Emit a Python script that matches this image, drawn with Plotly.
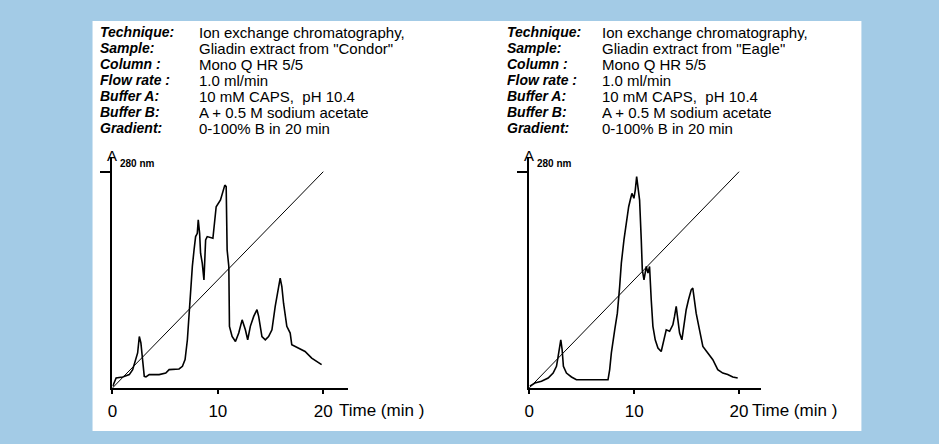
import plotly.graph_objects as go

W, H = 939, 444
BLUE = "#a3cbe6"
FONT = "Liberation Sans, Arial, sans-serif"

# header text
LABELS = ["Technique:", "Sample:", "Column :", "Flow rate :", "Buffer A:", "Buffer B:", "Gradient:"]
VALUES_LEFT = ["Ion exchange chromatography,", "Gliadin extract from \"Condor\"", "Mono Q HR 5/5",
               "1.0 ml/min", "10 mM CAPS,  pH 10.4", "A + 0.5 M sodium acetate", "0-100% B in 20 min"]
VALUES_RIGHT = ["Ion exchange chromatography,", "Gliadin extract from \"Eagle\"", "Mono Q HR 5/5",
                "1.0 ml/min", "10 mM CAPS,  pH 10.4", "A + 0.5 M sodium acetate", "0-100% B in 20 min"]

# gradient (% B)
grad_t = [0, 20]
grad_b = [0, 100]

# chromatogram "Condor"
condor_t = [0.03, 0.35, 0.97, 1.60, 1.92, 2.23, 2.39, 2.55, 2.70, 2.86, 3.02, 3.18, 3.49, 4.43, 5.06,
            5.38, 6.32, 6.64, 6.89, 7.11, 7.26, 7.42, 7.58, 7.74, 7.89, 8.05, 8.14, 8.27, 8.36, 8.52,
            8.68, 8.84, 8.99, 9.53, 9.72, 9.84, 10.25, 10.57, 10.66, 10.79, 10.88, 11.04, 11.10, 11.35,
            11.67, 11.98, 12.30, 12.61, 12.83, 13.08, 13.40, 13.71, 13.87, 14.18, 14.50, 14.81, 15.13,
            15.44, 15.69, 15.91, 16.07, 16.23, 16.54, 16.86, 17.01, 17.64, 18.27, 18.90, 19.53, 19.84]
condor_a = [0.8, 4.6, 5.1, 6.2, 8.5, 13.1, 16.2, 23.8, 20.8, 13.1, 5.4, 5.1, 6.2, 6.2, 6.9,
            8.5, 8.8, 10.0, 13.1, 22.3, 34.6, 46.9, 56.2, 63.8, 70.0, 71.5, 77.7, 71.5, 62.3, 57.7,
            50.0, 68.5, 70.0, 69.2, 77.7, 83.8, 86.9, 91.5, 93.8, 93.1, 63.8, 56.2, 28.5, 23.8,
            21.5, 25.4, 31.5, 26.9, 22.3, 28.5, 33.1, 36.2, 33.1, 23.8, 22.3, 23.8, 26.9,
            37.7, 45.4, 50.8, 46.9, 39.2, 28.5, 25.4, 20.0, 18.5, 16.9, 13.8, 11.5, 10.8]

# chromatogram "Eagle"
eagle_t = [0.06, 0.54, 1.17, 1.81, 2.28, 2.60, 2.76, 2.92, 3.01, 3.14, 3.26, 3.55, 4.03, 4.50, 5.93,
           7.51, 7.67, 7.83, 8.15, 8.40, 8.62, 8.78, 9.03, 9.26, 9.48, 9.67, 9.79, 9.98, 10.11, 10.24,
           10.36, 10.52, 10.68, 10.78, 10.94, 11.06, 11.16, 11.32, 11.47, 11.63, 11.79, 12.01, 12.27,
           12.58, 12.84, 13.06, 13.38, 13.69, 13.85, 14.01, 14.17, 14.33, 14.55, 14.74, 14.96, 15.18,
           15.44, 15.59, 15.75, 15.91, 16.23, 16.55, 17.02, 17.50, 17.97, 18.45, 18.92, 19.40, 19.87]
eagle_a = [0.8, 2.3, 3.1, 4.6, 6.9, 10.0, 14.6, 19.2, 22.3, 17.7, 10.0, 6.9, 5.1, 3.8, 3.8,
           3.8, 8.5, 16.2, 26.9, 34.6, 46.9, 57.7, 68.5, 77.7, 83.8, 87.7, 90.0, 87.7, 91.5, 97.7,
           91.5, 86.9, 68.5, 54.6, 50.0, 54.6, 56.2, 53.1, 56.2, 40.8, 28.5, 22.3, 18.5,
           16.9, 22.3, 26.9, 26.2, 29.2, 33.1, 37.7, 31.5, 25.4, 22.3, 28.5, 36.2, 40.8,
           45.4, 46.2, 40.8, 34.6, 26.9, 19.2, 16.2, 13.1, 8.5, 6.9, 6.2, 5.1, 4.6]


def px(x):
    return x / W


def py(y):
    return 1 - y / H


panels = [
    # (xaxis id, yaxis id, axis x px, axis end px, px per min, labels x, values x, values, time, abs)
    ("x", "y", 108, 345, 10.6, 93, 193, VALUES_LEFT, condor_t, condor_a),
    ("x2", "y2", 527, 760, 10.55, 503, 598, VALUES_RIGHT, eagle_t, eagle_a),
]

Y0, YTOP, Y100 = 388, 158, 171.7
y_per = (Y0 - Y100) / 100.0

fig = go.Figure()
layout = dict(
    width=W, height=H,
    margin=dict(l=0, r=0, t=0, b=0),
    paper_bgcolor=BLUE, plot_bgcolor="rgba(0,0,0,0)",
    showlegend=False,
    font=dict(family=FONT, color="black"),
    shapes=[dict(type="rect", xref="paper", yref="paper", x0=px(88), x1=px(861),
                 y0=py(431), y1=py(21), fillcolor="white", line=dict(width=0), layer="below")],
    annotations=[],
)

for xa, ya, ax0, ax1, ppm, lx, vx, vals, t, a in panels:
    fig.add_trace(go.Scatter(x=grad_t, y=grad_b, xaxis=xa, yaxis=ya, mode="lines",
                             line=dict(color="black", width=1), hoverinfo="skip"))
    fig.add_trace(go.Scatter(x=t, y=a, xaxis=xa, yaxis=ya, mode="lines",
                             line=dict(color="black", width=1.6)))

    xkey = "xaxis" + xa[1:]
    ykey = "yaxis" + ya[1:]
    layout[xkey] = dict(
        domain=[px(ax0), px(ax1)], range=[0, (ax1 - ax0) / ppm], anchor=ya,
        showline=True, linecolor="black", linewidth=2, showgrid=False, zeroline=False,
        ticks="outside", ticklen=4, tickwidth=1.5, tickcolor="black",
        tickvals=[0, 10, 20], ticktext=["0", "10", "20"],
        tickfont=dict(size=17, family=FONT, color="black"), ticklabelstandoff=3,
    )
    layout[ykey] = dict(
        domain=[py(Y0), py(YTOP)], range=[0, (Y0 - YTOP) / y_per], anchor=xa,
        showline=True, linecolor="black", linewidth=2, showgrid=False, zeroline=False,
        ticks="outside", ticklen=10, tickwidth=1.5, tickcolor="black",
        tickvals=[100], showticklabels=False,
    )

    ann = layout["annotations"]
    ann.append(dict(xref="paper", yref="paper", x=px(ax0), y=py(156), text="A", showarrow=False,
                    xanchor="center", yanchor="middle", font=dict(size=15, color="black")))
    ann.append(dict(xref="paper", yref="paper", x=px(ax0 + 6), y=py(163), text="<b>280 nm</b>",
                    showarrow=False, xanchor="left", yanchor="middle", font=dict(size=10, color="black")))
    ann.append(dict(xref="paper", yref="paper", x=px(ax1 - 11), y=py(410), text="Time (min )",
                    showarrow=False, xanchor="left", yanchor="middle", font=dict(size=17, color="black")))

    for i, (lab, val) in enumerate(zip(LABELS, vals)):
        yy = 32.3 + 15.9 * i
        ann.append(dict(xref="paper", yref="paper", x=px(lx), y=py(yy), text="<b><i>" + lab + "</i></b>",
                        showarrow=False, xanchor="left", yanchor="middle", height=16,
                        font=dict(size=14, color="black")))
        ann.append(dict(xref="paper", yref="paper", x=px(vx), y=py(yy), text=val,
                        showarrow=False, xanchor="left", yanchor="middle", height=18,
                        font=dict(size=15, color="black")))

fig.update_layout(**layout)
fig.write_html("out.html", config={"displayModeBar": False},
               post_script="document.body.style.margin='0';document.body.style.overflow='hidden';")
